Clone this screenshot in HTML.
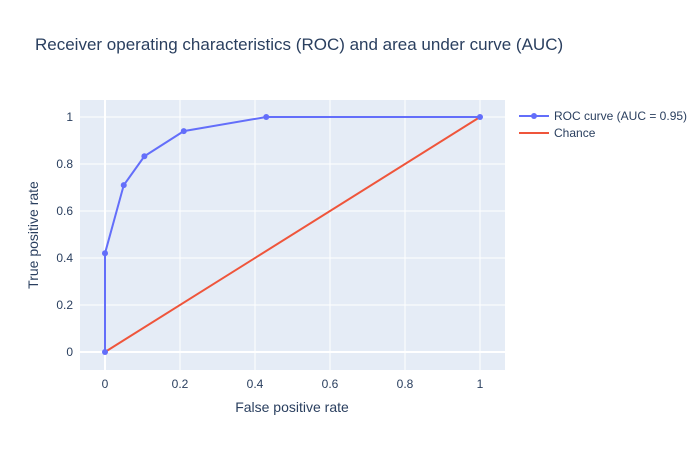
<!DOCTYPE html>
<html><head><meta charset="utf-8"><style>
body{margin:0;background:#fff;}
svg{font-family:"Liberation Sans",sans-serif;}
</style></head><body>
<svg id="chart" width="700" height="450">
<text x="35" y="50" font-size="17" fill="#2a3f5f">Receiver operating characteristics (ROC) and area under curve (AUC)</text>
<rect x="80" y="100" width="425" height="270" fill="#e5ecf6"/>
<g id="grid"></g>
<g id="ticks"></g>
<g id="series"></g>
<text x="292" y="412" font-size="14" fill="#2a3f5f" text-anchor="middle">False positive rate</text>
<text transform="translate(38,235) rotate(-90)" font-size="14" fill="#2a3f5f" text-anchor="middle">True positive rate</text>
<g>
<g>
<line x1="519" y1="116" x2="549" y2="116" stroke="#636efa" stroke-width="2"/>
<circle cx="534" cy="116" r="3" fill="#636efa"/>
<text x="554" y="120" font-size="12" fill="#2a3f5f">ROC curve (AUC = 0.95)</text></g>
<g>
<line x1="519" y1="133" x2="549" y2="133" stroke="#ef553b" stroke-width="2"/>
<text x="554" y="137" font-size="12" fill="#2a3f5f">Chance</text></g>
</g>
</svg>
<script>
const fpr=[0,0,0.05,0.105,0.21,0.43,1];
const tpr=[0,0.42,0.71,0.833,0.94,1,1];
const chanceX=[0,1];
const chanceY=[0,1];
const xTicks=[0,0.2,0.4,0.6,0.8,1];
const yTicks=[0,0.2,0.4,0.6,0.8,1];
const xTickLabels=["0","0.2","0.4","0.6","0.8","1"];
const yTickLabels=["0","0.2","0.4","0.6","0.8","1"];
const NS="http://www.w3.org/2000/svg";
function sx(v){return 105+v*375;}
function sy(v){return 352-v*235;}
function mk(tag,attrs,parent){const e=document.createElementNS(NS,tag);for(const k in attrs)e.setAttribute(k,attrs[k]);parent.appendChild(e);return e;}
const grid=document.getElementById('grid'),ticks=document.getElementById('ticks'),series=document.getElementById('series');
xTicks.forEach((t,i)=>{
  const l=mk('line',{x1:sx(t),x2:sx(t),y1:100,y2:370,stroke:'#fff','stroke-width':t===0?2:1},grid);
  
  
  const tx=mk('text',{x:sx(t),y:388,'font-size':12,fill:'#2a3f5f','text-anchor':'middle'},ticks);
  tx.textContent=xTickLabels[i];
  
  
});
yTicks.forEach((t,i)=>{
  const l=mk('line',{x1:80,x2:505,y1:sy(t),y2:sy(t),stroke:'#fff','stroke-width':t===0?2:1},grid);
  
  
  const tx=mk('text',{x:73,y:sy(t)+4,'font-size':12,fill:'#2a3f5f','text-anchor':'end'},ticks);
  tx.textContent=yTickLabels[i];
  
  
});
const cl=mk('polyline',{points:chanceX.map((x,i)=>sx(x)+','+sy(chanceY[i])).join(' '),fill:'none',stroke:'#ef553b','stroke-width':2},series);


const rl=mk('polyline',{points:fpr.map((x,i)=>sx(x)+','+sy(tpr[i])).join(' '),fill:'none',stroke:'#636efa','stroke-width':2},series);


fpr.forEach((x,i)=>{
  const c=mk('circle',{cx:sx(x),cy:sy(tpr[i]),r:3,fill:'#636efa'},series);
  
  
});
</script>
</body></html>
